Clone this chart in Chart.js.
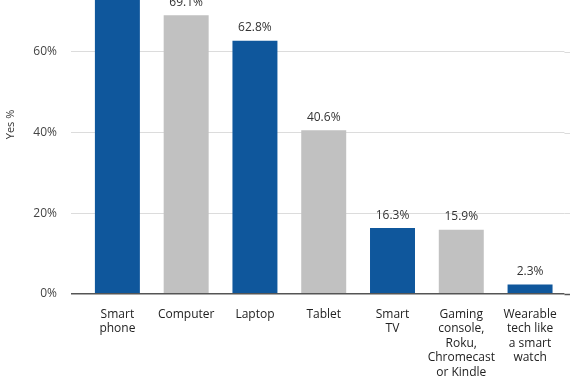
<!DOCTYPE html>
<html>
<head>
<meta charset="utf-8">
<script src="https://cdn.jsdelivr.net/npm/chart.js@4"></script>
<style>
  html, body { margin: 0; padding: 0; background: #fff; overflow: hidden; }
  #wrap { position: absolute; left: 0; top: -66px; width: 570px; height: 460px; }
</style>
</head>
<body>
<div id="wrap"><canvas id="c"></canvas></div>
<script>
const categories = [
  ["Smart", "phone"],
  ["Computer"],
  ["Laptop"],
  ["Tablet"],
  ["Smart", "TV"],
  ["Gaming", "console,", "Roku,", "Chromecast", "or Kindle"],
  ["Wearable", "tech like", "a smart", "watch"]
];
const yesValues = [82.0, 69.1, 62.8, 40.6, 16.3, 15.9, 2.3];
const yTicks = [0, 20, 40, 60, 80];
const barColors = ["#0f579c", "#c1c1c1", "#0f579c", "#c1c1c1", "#0f579c", "#c1c1c1", "#0f579c"];
const FONT = "'Open Sans', 'Noto Sans', sans-serif";

const labelPlugin = {
  id: 'valueLabels',
  afterDatasetsDraw(chart) {
    const ctx = chart.ctx;
    const meta = chart.getDatasetMeta(0);
    ctx.save();
    ctx.font = "12px " + FONT;
    ctx.fillStyle = "#333";
    ctx.textAlign = "center";
    ctx.textBaseline = "middle";
    meta.data.forEach((bar, i) => {
      ctx.fillText(yesValues[i].toFixed(1) + "%", bar.x, bar.y - 13);
    });
    ctx.restore();
  }
};

const gridExtend = {
  id: 'gridExtend',
  beforeDatasetsDraw(chart) {
    const ctx = chart.ctx;
    const ys = chart.scales.y;
    const area = chart.chartArea;
    ctx.save();
    ys.ticks.forEach(t => {
      const py = Math.round(ys.getPixelForValue(t.value)) + 0.5;
      ctx.strokeStyle = t.value === 0 ? "#555" : "#dcdcdc";
      ctx.lineWidth = t.value === 0 ? 1.5 : 1;
      ctx.beginPath();
      ctx.moveTo(area.right, py);
      ctx.lineTo(chart.width, py);
      ctx.stroke();
    });
    ctx.restore();
  }
};

new Chart(document.getElementById('c'), {
  type: 'bar',
  data: {
    labels: categories,
    datasets: [{
      label: 'Yes %',
      data: yesValues,
      backgroundColor: barColors,
      borderWidth: 0,
      barPercentage: 0.654,
      categoryPercentage: 1.0
    }]
  },
  options: {
    responsive: true,
    maintainAspectRatio: false,
    animation: false,
    layout: { padding: { top: 0, right: 5, bottom: 1, left: 0 } },
    plugins: { legend: { display: false }, tooltip: { enabled: false } },
    scales: {
      x: {
        grid: { display: false, drawTicks: false },
        border: { display: false },
        ticks: {
          color: "#222",
          font: { family: FONT, size: 12, lineHeight: 1.22 },
          padding: 13,
          maxRotation: 0,
          autoSkip: false
        }
      },
      y: {
        min: 0,
        max: 84,
        afterBuildTicks(scale) {
          scale.ticks = yTicks.map(v => ({ value: v }));
        },
        afterFit(scale) { scale.width = 83; },
        grid: {
          color: ctx => (ctx.tick && ctx.tick.value === 0) ? "#555" : "#dcdcdc",
          lineWidth: ctx => (ctx.tick && ctx.tick.value === 0) ? 1.5 : 1,
          tickLength: 12,
          drawTicks: true
        },
        border: { display: false },
        ticks: {
          color: "#444",
          font: { family: FONT, size: 12 },
          padding: 14,
          callback: v => v + "%"
        },
        title: {
          display: true,
          text: "Yes %",
          color: "#333",
          font: { family: FONT, size: 11 },
          padding: { top: 4, bottom: 0 }
        }
      }
    }
  },
  plugins: [labelPlugin, gridExtend]
});
</script>
</body>
</html>
